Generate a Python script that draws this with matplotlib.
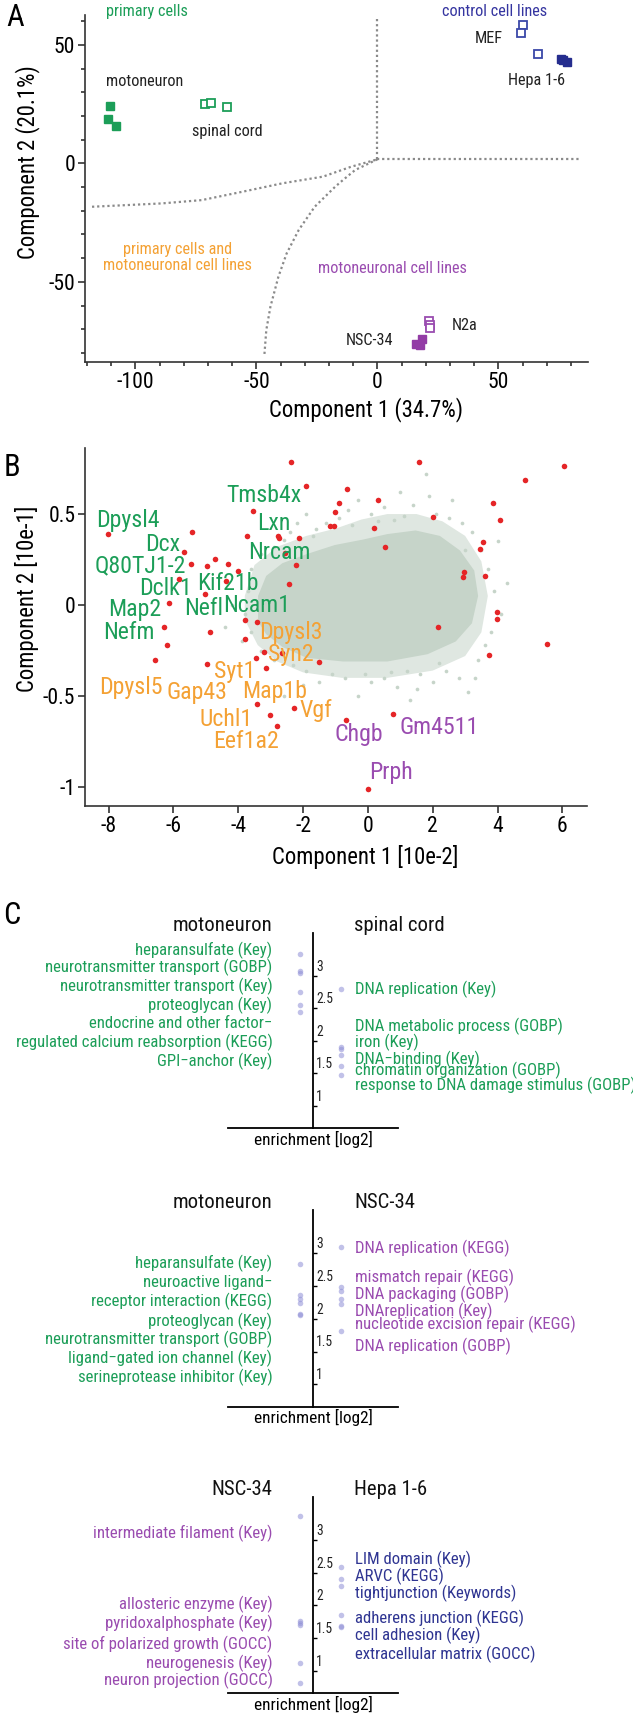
import matplotlib
matplotlib.use("Agg")
import matplotlib.pyplot as plt
from matplotlib.font_manager import FontProperties
from matplotlib.ticker import MultipleLocator

FAMILY = ['Roboto Condensed', 'DejaVu Sans']
plt.rcParams['font.family'] = FAMILY
plt.rcParams['axes.unicode_minus'] = False

W, H = 633, 1718

GREEN = '#1c9e58'
ORANGE = '#f4a134'
PURPLE = '#9a4cb0'
NAVY = '#2f3592'
RED = '#e52527'
CLOUD = '#c6d4c9'
CLOUD_EDGE = '#dfe7e1'
DOT = '#8f8fd6'

# ---- panel A: PCA of samples ----
mn_x = [-110.5, -111.2, -108.0]
mn_y = [24.1, 18.8, 15.9]
sc_x = [-71.2, -68.8, -62.2]
sc_y = [24.9, 25.3, 23.7]
mef_x = [60.0, 59.2, 66.2]
mef_y = [58.2, 55.0, 46.2]
hepa_x = [75.8, 78.3, 76.7]
hepa_y = [44.0, 42.6, 43.7]
n2a_x = [21.5, 21.7, 21.7]
n2a_y = [-66.3, -68.0, -69.6]
nsc_x = [18.3, 15.8, 17.5]
nsc_y = [-73.9, -76.0, -76.7]

# region borders (dotted)
vline_x = [0, 0]
vline_y = [61.0, 1.7]
hline_x = [0, 83.4]
hline_y = [1.7, 1.7]
upper_curve_x = [-117.9, -89.2, -72.6, -55.9, -39.2, -22.5, -10.8, 0]
upper_curve_y = [-18.3, -16.9, -15.5, -12.0, -8.4, -5.6, -1.4, 1.7]
lower_curve_x = [0, -9.2, -14.2, -17.5, -25.9, -32.5, -37.5, -40.9, -44.2, -45.9, -46.7]
lower_curve_y = [1.7, -2.8, -7.0, -9.9, -18.3, -28.1, -38.0, -47.8, -60.5, -70.3, -80.9]

# ---- panel B: loadings ----
# outline of the dense grey cloud and its paler fringe
core_x = [-3.39, -3.14, -2.64, -1.89, -1.02, -0.15, 0.60, 1.47, 2.22, 2.84, 3.28, 3.40,
          3.21, 2.71, 1.84, 0.60, -0.77, -1.89, -2.64, -3.14, -3.39]
core_y = [0.05, 0.16, 0.23, 0.28, 0.33, 0.36, 0.39, 0.41, 0.38, 0.30, 0.19, 0.05,
          -0.10, -0.20, -0.27, -0.31, -0.31, -0.29, -0.23, -0.16, -0.09]
fringe_x = [-3.8, -3.5, -2.8, -1.9, -1.0, -0.2, 0.6, 1.5, 2.3, 3.0, 3.5, 3.7,
            3.5, 3.0, 2.0, 0.6, -0.8, -2.0, -2.8, -3.4, -3.8]
fringe_y = [0.05, 0.22, 0.32, 0.38, 0.42, 0.47, 0.50, 0.50, 0.46, 0.38, 0.24, 0.05,
            -0.15, -0.28, -0.36, -0.40, -0.40, -0.37, -0.31, -0.22, -0.08]
halo_x = [-2.2, -1.9, -1.6, -1.3, -0.9, -0.6, -0.3, 0.1, 0.5, 0.8, 1.1, 1.4, 1.8, 2.1,
          2.5, 2.9, 3.2, 3.5, 3.7, 3.9, 4.1, 3.8, 3.6, 3.4, 3.1, 2.8, 2.4, 2.0, 1.6, 1.3,
          0.9, 0.5, 0.1, -0.3, -0.7, -1.1, -1.5, -1.9, -2.3, -2.6, -2.9, -3.3, -3.6, -3.8,
          -3.7, -3.6, -3.3, -2.9, -2.6, -4.2, -4.4, -4.0, 4.3, 4.0, 1.0, 1.9, 2.6, 3.0,
          -0.5, 0.3, -1.7, -2.4, 2.2, 1.2, -0.1, 3.3, -3.9, -2.0, 0.7, 1.5]
halo_y = [0.45, 0.50, 0.42, 0.45, 0.48, 0.52, 0.58, 0.50, 0.54, 0.47, 0.49, 0.55, 0.72,
          0.50, 0.48, 0.45, 0.40, 0.30, 0.20, 0.08, -0.05, -0.15, -0.22, -0.30, -0.48,
          -0.40, -0.36, -0.42, -0.38, -0.52, -0.45, -0.40, -0.42, -0.50, -0.40, -0.38,
          -0.42, -0.36, -0.33, -0.50, -0.30, -0.25, -0.15, -0.05, 0.08, 0.20, 0.28, 0.32,
          0.36, 0.00, -0.12, 0.18, 0.12, 0.35, 0.62, 0.60, 0.58, 0.30, 0.44, 0.46, 0.38,
          0.40, -0.32, -0.36, -0.38, -0.40, -0.20, -0.44, -0.37, -0.46]
red_x = [-2.37, 1.59, 6.04, 4.86, -1.92, -0.65, -3.54, 0.31, -0.90, -1.02, 3.86, 4.08,
         2.00, -1.17, -1.05, 0.19, -8.02, -5.43, -3.74, -2.76, -2.73, -2.12, 0.54, 3.55,
         3.46, -5.69, -2.55, -4.73, -5.45, -4.97, -4.31, -4.01, -2.23, 2.96, 2.93, 3.62,
         -5.82, -4.38, -2.45, -5.03, -6.15, -3.79, -3.42, 3.99, 3.99, -6.28, -4.86, 2.15,
         -3.80, 5.54, -6.19, -3.20, -3.45, -6.58, -4.98, 3.74, -1.52, -3.16, -2.64,
         -3.42, -2.27, -3.01, -2.80, -0.67, 0.78, 0.00]
red_y = [0.788, 0.788, 0.764, 0.687, 0.654, 0.637, 0.518, 0.577, 0.559, 0.513, 0.559,
         0.467, 0.485, 0.434, 0.434, 0.425, 0.390, 0.399, 0.379, 0.381, 0.366, 0.370,
         0.321, 0.348, 0.306, 0.289, 0.288, 0.253, 0.225, 0.214, 0.225, 0.189, 0.220,
         0.183, 0.152, 0.159, 0.141, 0.134, 0.114, 0.059, 0.009, -0.082, -0.092, -0.037,
         -0.077, -0.119, -0.147, -0.119, -0.185, -0.216, -0.220, -0.256, -0.289, -0.304,
         -0.322, -0.277, -0.313, -0.344, -0.266, -0.542, -0.564, -0.606, -0.665, -0.632,
         -0.601, -1.013]
green_genes = ["Tmsb4x", "Dpysl4", "Lxn", "Dcx", "Nrcam", "Q80TJ1-2", "Kif21b", "Dclk1",
               "Map2", "Nefl", "Ncam1", "Nefm"]
green_gene_x = [-3.20, -7.40, -2.89, -6.34, -2.74, -7.02, -4.32, -6.25, -7.19, -5.07, -3.42, -7.37]
green_gene_y = [0.604, 0.467, 0.449, 0.335, 0.288, 0.214, 0.119, 0.092, -0.027, -0.018, -0.005, -0.152]
orange_genes = ["Dpysl3", "Syn2", "Syt1", "Dpysl5", "Gap43", "Map1b", "Vgf", "Uchl1", "Eef1a2"]
orange_gene_x = [-2.39, -2.39, -4.10, -7.31, -5.29, -2.89, -1.61, -4.38, -3.76]
orange_gene_y = [-0.152, -0.271, -0.363, -0.454, -0.482, -0.473, -0.579, -0.628, -0.751]
purple_genes = ["Chgb", "Gm4511", "Prph"]
purple_gene_x = [-0.27, 2.19, 0.70]
purple_gene_y = [-0.711, -0.674, -0.921]

# ---- panel C: enrichment ----
c1_left_lines = ["heparansulfate (Key)", "neurotransmitter transport (GOBP)",
                 "neurotransmitter transport (Key)", "proteoglycan (Key)",
                 "endocrine and other factor\u2212", "regulated calcium reabsorption (KEGG)",
                 "GPI\u2212anchor (Key)"]
c1_left_line_y = [3.40, 3.13, 2.84, 2.55, 2.26, 1.97, 1.68]
c1_left_vals = [3.33, 3.08, 3.04, 2.76, 2.56, 2.45]
c1_right_lines = ["DNA replication (Key)", "DNA metabolic process (GOBP)", "iron (Key)",
                  "DNA\u2212binding (Key)", "chromatin organization (GOBP)",
                  "response to DNA damage stimulus (GOBP)"]
c1_right_line_y = [2.80, 2.23, 1.98, 1.72, 1.55, 1.31]
c1_right_vals = [2.80, 1.90, 1.88, 1.79, 1.61, 1.48]

c2_left_lines = ["heparansulfate (Key)", "neuroactive ligand\u2212",
                 "receptor interaction (KEGG)", "proteoglycan (Key)",
                 "neurotransmitter transport (GOBP)", "ligand\u2212gated ion channel (Key)",
                 "serineprotease inhibitor (Key)"]
c2_left_line_y = [2.84, 2.55, 2.27, 1.96, 1.68, 1.39, 1.10]
c2_left_vals = [2.84, 2.36, 2.30, 2.24, 2.08, 2.06]
c2_right_lines = ["DNA replication (KEGG)", "mismatch repair (KEGG)", "DNA packaging (GOBP)",
                  "DNAreplication (Key)", "nucleotide excision repair (KEGG)",
                  "DNA replication (GOBP)"]
c2_right_line_y = [3.07, 2.63, 2.38, 2.12, 1.91, 1.58]
c2_right_vals = [3.10, 2.48, 2.42, 2.30, 2.22, 1.82]

c3_left_lines = ["intermediate filament (Key)", "allosteric enzyme (Key)",
                 "pyridoxalphosphate (Key)", "site of polarized growth (GOCC)",
                 "neurogenesis (Key)", "neuron projection (GOCC)"]
c3_left_line_y = [3.10, 2.01, 1.72, 1.41, 1.12, 0.85]
c3_left_vals = [3.37, 1.77, 1.73, 1.70, 1.12, 0.82]
c3_right_lines = ["LIM domain (Key)", "ARVC (KEGG)", "tightjunction (Keywords)",
                  "adherens junction (KEGG)", "cell adhesion (Key)",
                  "extracellular matrix (GOCC)"]
c3_right_line_y = [2.71, 2.45, 2.19, 1.80, 1.54, 1.26]
c3_right_vals = [2.58, 2.41, 2.29, 1.86, 1.69, 1.67]

enrich_ticks = [1, 1.5, 2, 2.5, 3]
enrich_tick_labels = ["1", "1.5", "2", "2.5", "3"]

fig = plt.figure(figsize=(W / 100, H / 100), dpi=100)
renderer = fig.canvas.get_renderer()


def fit(samples):
    # font size (pt) that makes sample strings as wide (px) as in the reference
    sizes = []
    for s, target in samples:
        w = renderer.get_text_width_height_descent(s, FontProperties(family=FAMILY, size=10), False)[0]
        sizes.append(10 * target / w)
    return sum(sizes) / len(sizes)


TICK_FS = fit([("50", 20.7), ("-100", 37.7)])
AXLAB_FS = fit([("Component 1 (34.7%)", 184), ("Component 1 [10e-2]", 194)])
ANN_FS = fit([("primary cells", 87), ("motoneuron", 76), ("control cell lines", 101)])
GENE_FS = fit([("Tmsb4x", 72.7), ("Q80TJ1-2", 96), ("Gm4511", 76.7)])
TERM_FS = fit([("heparansulfate (Key)", 143.5), ("neurotransmitter transport (GOBP)", 238),
               ("DNA replication (Key)", 138), ("response to DNA damage stimulus (GOBP)", 262)])
HEAD_FS = fit([("motoneuron", 99)])
XLAB_C_FS = fit([("enrichment [log2]", 118)])
CTICK_FS = fit([("2.5", 17)])


def px_axes(left, top, right, bottom):
    return fig.add_axes([left / W, 1 - bottom / H, (right - left) / W, (bottom - top) / H])


def style_spines(ax):
    for s in ['top', 'right']:
        ax.spines[s].set_visible(False)
    for s in ['left', 'bottom']:
        ax.spines[s].set_linewidth(1.2)
        ax.spines[s].set_color('#333333')


# ================= A =================
axA = px_axes(85, 15, 588, 362)
dotted = dict(color='#8a8a8a', lw=1.6, ls=(0, (1, 1.3)))
axA.plot(vline_x, vline_y, **dotted)
axA.plot(hline_x, hline_y, **dotted)
axA.plot(upper_curve_x, upper_curve_y, **dotted)
axA.plot(lower_curve_x, lower_curve_y, **dotted)

sq = dict(ls='none', marker='s', ms=6)
axA.plot(mn_x, mn_y, color=GREEN, **sq)
axA.plot(sc_x, sc_y, mfc='white', mec=GREEN, mew=1.3, **sq)
axA.plot(mef_x, mef_y, mfc='white', mec='#3a48a8', mew=1.3, **sq)
axA.plot(hepa_x, hepa_y, color='#252d8e', **sq)
axA.plot(n2a_x, n2a_y, mfc='white', mec=PURPLE, mew=1.3, **sq)
axA.plot(nsc_x, nsc_y, color='#933ca6', **sq)

axA.set_xlim(-120.8, 87.0)
axA.set_ylim(-83.8, 62.6)
axA.set_xticks([-100, -50, 0, 50])
axA.set_yticks([-50, 0, 50])
axA.xaxis.set_minor_locator(MultipleLocator(10))
axA.yaxis.set_minor_locator(MultipleLocator(10))
axA.tick_params(which='major', length=5, width=1.2, labelsize=TICK_FS, pad=2, color='#333333')
axA.tick_params(which='minor', length=3, width=1.2, color='#333333')
style_spines(axA)
axA.set_xlabel('Component 1 (34.7%)', fontsize=AXLAB_FS)
axA.xaxis.set_label_coords(0.559, -0.101)
axA.set_ylabel('Component 2 (20.1%)', fontsize=AXLAB_FS)
axA.yaxis.set_label_coords(-0.09, 0.576)

ann = dict(fontsize=ANN_FS)
axA.text(-112.3, 64.0, 'primary cells', color=GREEN, ha='left', va='center', **ann)
axA.text(26.7, 64.0, 'control cell lines', color='#3535a0', ha='left', va='center', **ann)
axA.text(51.7, 52.7, 'MEF', color='#222222', ha='right', va='center', **ann)
axA.text(65.6, 35.1, 'Hepa 1-6', color='#222222', ha='center', va='center', **ann)
axA.text(-112.3, 34.4, 'motoneuron', color='#222222', ha='left', va='center', **ann)
axA.text(-76.7, 13.3, 'spinal cord', color='#222222', ha='left', va='center', **ann)
axA.text(-82.6, -39.6, 'primary cells and\nmotoneuronal cell lines', color=ORANGE,
         ha='center', va='center', linespacing=1.1, **ann)
axA.text(6.2, -44.3, 'motoneuronal cell lines', color=PURPLE, ha='center', va='center', **ann)
axA.text(30.9, -68.2, 'N2a', color='#222222', ha='left', va='center', **ann)
axA.text(6.7, -74.8, 'NSC-34', color='#222222', ha='right', va='center', **ann)

# ================= B =================
axB = px_axes(85, 448, 587, 806)
axB.fill(fringe_x, fringe_y, color=CLOUD_EDGE, lw=0, zorder=1)
axB.fill(core_x, core_y, color=CLOUD, lw=0, zorder=1)
axB.scatter(halo_x, halo_y, s=7, color=CLOUD, lw=0, zorder=1)
axB.scatter(red_x, red_y, s=16, color=RED, lw=0, zorder=3)
for name, x, y in zip(green_genes, green_gene_x, green_gene_y):
    axB.text(x, y, name, color=GREEN, fontsize=GENE_FS, ha='center', va='center', zorder=4)
for name, x, y in zip(orange_genes, orange_gene_x, orange_gene_y):
    axB.text(x, y, name, color=ORANGE, fontsize=GENE_FS, ha='center', va='center', zorder=4)
for name, x, y in zip(purple_genes, purple_gene_x, purple_gene_y):
    axB.text(x, y, name, color=PURPLE, fontsize=GENE_FS, ha='center', va='center', zorder=4)
axB.set_xlim(-8.73, 6.76)
axB.set_ylim(-1.104, 0.863)
axB.set_xticks([-8, -6, -4, -2, 0, 2, 4, 6])
axB.set_yticks([-1, -0.5, 0, 0.5])
axB.set_yticklabels(['-1', '-0.5', '0', '0.5'])
axB.tick_params(length=5, width=1.2, labelsize=TICK_FS, pad=2, color='#333333')
style_spines(axB)
axB.set_xlabel('Component 1 [10e-2]', fontsize=AXLAB_FS)
axB.xaxis.set_label_coords(0.558, -0.109)
axB.set_ylabel('Component 2 [10e-1]', fontsize=AXLAB_FS)
axB.yaxis.set_label_coords(-0.0916, 0.58)


# ================= C =================
def enrichment_panel(top, bottom, left_title, right_title,
                     left_lines, left_line_y, left_vals, left_color,
                     right_lines, right_line_y, right_vals, right_color):
    ax = px_axes(228, top, 398, bottom)
    ax.set_xlim(-85, 85)
    ax.set_ylim(0.66, 3.66)
    for s in ['top', 'right']:
        ax.spines[s].set_visible(False)
    ax.spines['left'].set_position(('data', 0))
    ax.spines['left'].set_linewidth(1.3)
    ax.spines['bottom'].set_linewidth(1.3)
    ax.set_xticks([])
    ax.set_yticks(enrich_ticks)
    ax.tick_params(axis='y', direction='in', length=3, width=1, labelleft=False)
    for v, lab in zip(enrich_ticks, enrich_tick_labels):
        ax.text(3, v + 0.14, lab, fontsize=CTICK_FS, ha='left', va='center', color='#222222')
    ax.plot([-13.5] * len(left_vals), left_vals, ls='none', marker='o', ms=4,
            color=DOT, alpha=0.55, mew=0)
    ax.plot([28] * len(right_vals), right_vals, ls='none', marker='o', ms=4,
            color=DOT, alpha=0.55, mew=0)
    for txt, y in zip(left_lines, left_line_y):
        ax.text(-40.5, y, txt, color=left_color, fontsize=TERM_FS, ha='right', va='center')
    for txt, y in zip(right_lines, right_line_y):
        ax.text(42, y, txt, color=right_color, fontsize=TERM_FS, ha='left', va='center')
    ax.text(-40.5, 3.77, left_title, fontsize=HEAD_FS, ha='right', va='center', color='#111111')
    ax.text(41, 3.77, right_title, fontsize=HEAD_FS, ha='left', va='center', color='#111111')
    ax.set_xlabel('enrichment [log2]', fontsize=XLAB_C_FS, labelpad=2)
    return ax


enrichment_panel(933, 1128, 'motoneuron', 'spinal cord',
                 c1_left_lines, c1_left_line_y, c1_left_vals, GREEN,
                 c1_right_lines, c1_right_line_y, c1_right_vals, GREEN)
enrichment_panel(1210, 1406.7, 'motoneuron', 'NSC-34',
                 c2_left_lines, c2_left_line_y, c2_left_vals, GREEN,
                 c2_right_lines, c2_right_line_y, c2_right_vals, PURPLE)
enrichment_panel(1496.7, 1693.3, 'NSC-34', 'Hepa 1-6',
                 c3_left_lines, c3_left_line_y, c3_left_vals, PURPLE,
                 c3_right_lines, c3_right_line_y, c3_right_vals, NAVY)

fig.text(15 / W, 1 - 17 / H, 'A', fontsize=22, ha='center', va='center')
fig.text(12 / W, 1 - 467 / H, 'B', fontsize=22, ha='center', va='center')
fig.text(12 / W, 1 - 915 / H, 'C', fontsize=22, ha='center', va='center')

fig.savefig('out.png', dpi=100)
